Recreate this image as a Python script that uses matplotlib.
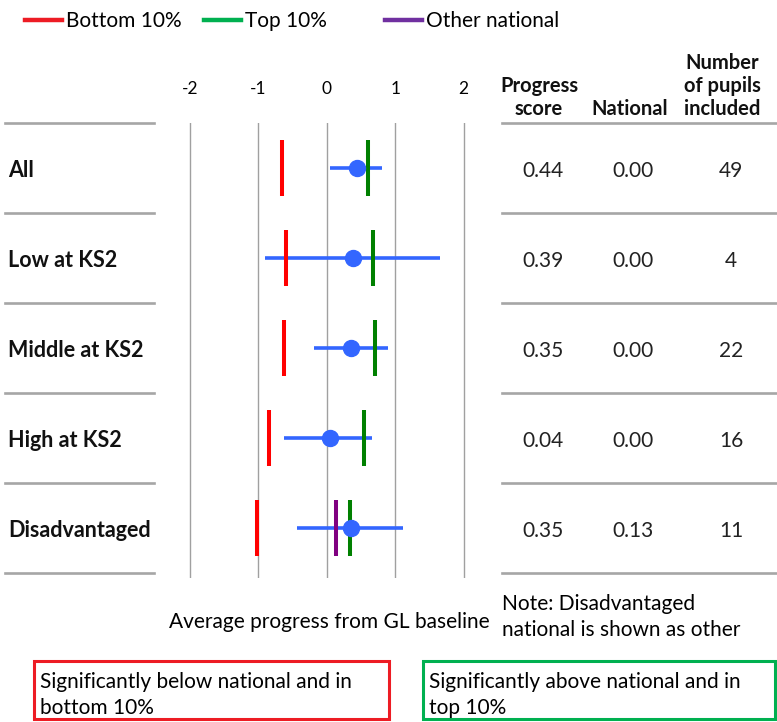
import matplotlib
matplotlib.use("Agg")
from matplotlib import pyplot as plt
from matplotlib import transforms
from matplotlib.lines import Line2D
from matplotlib.patches import Rectangle

plt.rcParams['font.family'] = ['Lato', 'DejaVu Sans']

# data
groups = ["All", "Low at KS2", "Middle at KS2", "High at KS2", "Disadvantaged"]
score = [0.44, 0.39, 0.35, 0.04, 0.35]
ci_low = [0.05, -0.90, -0.19, -0.62, -0.43]
ci_high = [0.80, 1.66, 0.90, 0.66, 1.11]
bottom10 = [-0.66, -0.59, -0.63, -0.84, -1.02]
top10 = [0.60, 0.67, 0.71, 0.55, 0.34]
national = [0.00, 0.00, 0.00, 0.00, 0.13]
pupils = [49, 4, 22, 16, 11]
xticks = [-2, -1, 0, 1, 2]

W, H = 777, 722
def fx(px):
    return px / W
def fy(py):
    return 1 - py / H

fig = plt.figure(figsize=(W / 100, H / 100), dpi=100)

# plot area: -2 at 190px, 68.4px per unit, rows 90px apart
ax = fig.add_axes([fx(155), fy(578), fx(500) - fx(155), fy(123) - fy(578)])
ax.set_xlim(-2 - 35 / 68.4, 2 + (500 - 463.6) / 68.4)
ax.set_ylim(4.556, -0.5)
for s in ax.spines.values():
    s.set_visible(False)
ax.set_yticks([])
ax.set_xticks(xticks)
ax.set_xticklabels([str(t) for t in xticks])
ax.xaxis.set_ticks_position('top')
ax.tick_params(axis='x', length=0, pad=19, labelsize=12.5, colors='black')
for t in xticks:
    ax.axvline(t, color='#a0a0a0', lw=1.0, zorder=0)

rows = range(len(groups))
half = 0.31
for i in rows:
    ax.hlines(i, ci_low[i], ci_high[i], color='#3366ff', lw=2.6, zorder=2)
    ax.vlines(bottom10[i], i - half, i + half, color='#ff0000', lw=2.9, zorder=3)
    if national[i] != 0:
        ax.vlines(national[i], i - half, i + half, color='#800080', lw=2.9, zorder=3)
    ax.vlines(top10[i], i - half, i + half, color='#008000', lw=2.9, zorder=3)
    ax.plot(score[i], i, 'o', color='#3366ff', ms=11.5, zorder=4)

# table part: x in figure, y in data rows
tr = transforms.blended_transform_factory(fig.transFigure, ax.transData)
sep_color = '#a6a6a6'
for k in range(len(groups) + 1):
    y = k - 0.5
    ax.add_line(Line2D([fx(5), fx(154)], [y, y], transform=tr, color=sep_color,
                       lw=1.9, clip_on=False))
    ax.add_line(Line2D([fx(502), fx(777)], [y, y], transform=tr, color=sep_color,
                       lw=1.9, clip_on=False))

for i in rows:
    ax.text(fx(8), i + 0.03, groups[i], transform=tr, ha='left', va='center',
            fontsize=15.5, fontweight='bold', color='#111111')
    ax.text(fx(543), i + 0.03, f"{score[i]:.2f}", transform=tr, ha='center', va='center',
            fontsize=15, color='#222222')
    ax.text(fx(633), i + 0.03, f"{national[i]:.2f}", transform=tr, ha='center', va='center',
            fontsize=15, color='#222222')
    ax.text(fx(731), i + 0.03, str(pupils[i]), transform=tr, ha='center', va='center',
            fontsize=15, color='#222222')

# column headers
hdr = dict(fontsize=14.5, fontweight='bold', ha='center', va='bottom',
           linespacing=1.18, color='#111111')
fig.text(fx(539), fy(119), "Progress\nscore", **hdr)
fig.text(fx(630), fy(119), "National", **hdr)
fig.text(fx(722), fy(119), "Number\nof pupils\nincluded", **hdr)

# legend at the top
legend_items = [("Bottom 10%", '#ed1c24', 25), ("Top 10%", '#00b050', 204),
                ("Other national", '#7030a0', 385)]
for label, col, x0 in legend_items:
    fig.add_artist(Line2D([fx(x0), fx(x0 + 37)], [fy(20), fy(20)], color=col, lw=3.2))
    fig.text(fx(x0 + 41), fy(21), label, fontsize=15, va='center', ha='left')

# bottom texts
fig.text(fx(329), fy(622), "Average progress from GL baseline", fontsize=15,
         ha='center', va='center')
fig.text(fx(502), fy(617), "Note: Disadvantaged\nnational is shown as other",
         fontsize=15, ha='left', va='center', linespacing=1.38)

boxes = [("Significantly below national and in\nbottom 10%", '#ed1c24', 34, 389),
         ("Significantly above national and in\ntop 10%", '#00b050', 423, 775)]
for txt, col, x0, x1 in boxes:
    fig.add_artist(Rectangle((fx(x0), fy(719)), fx(x1) - fx(x0), fy(661) - fy(719),
                             transform=fig.transFigure, fill=False, ec=col, lw=2.2))
    fig.text(fx(x0 + 6), fy(695), txt, fontsize=15, ha='left', va='center',
             linespacing=1.42)

fig.savefig("out.png", dpi=100)
